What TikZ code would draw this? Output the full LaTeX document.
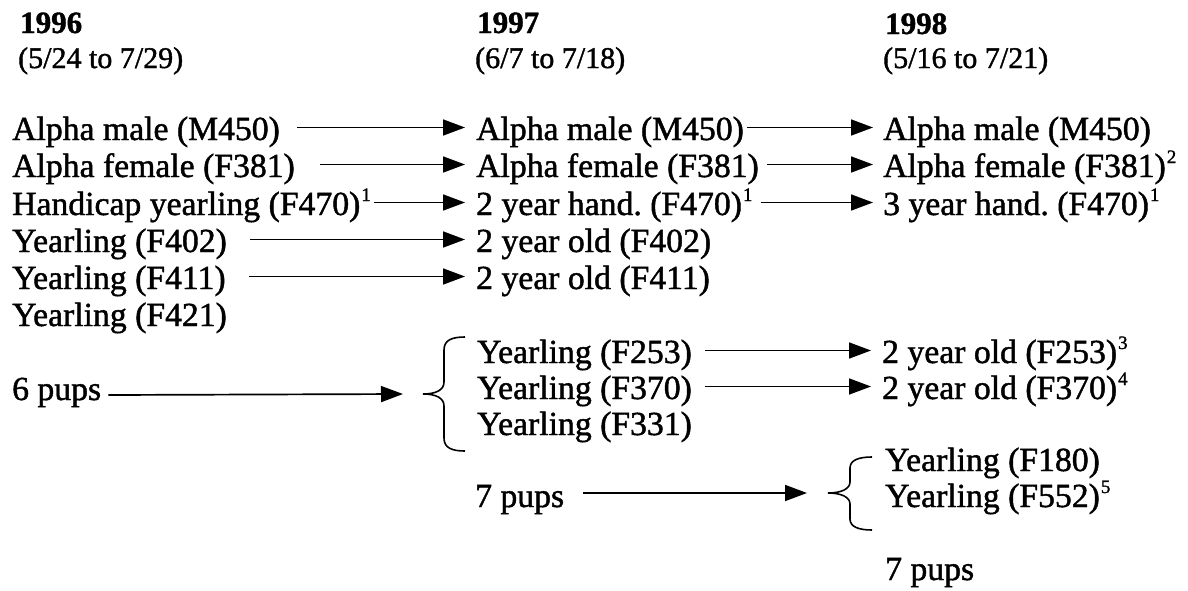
\documentclass[tikz,border=0pt]{standalone}
\usepackage{fontspec}
\setmainfont{Liberation Serif}[FakeBold=1.3]
\usetikzlibrary{arrows.meta,calc}
\newcommand\mainsz{\fontsize{33.7}{36}\selectfont}
\newcommand\supn[1]{\kern1pt\raisebox{14pt}{\fontsize{19}{19}\selectfont #1}}
\begin{document}
\begin{tikzpicture}[x=1pt,y=-1pt,
  lbl/.style={anchor=base west,inner sep=0pt,font=\mainsz,text height=25pt,text depth=0pt},
  yr/.style={anchor=base west,inner sep=0pt,font=\fontsize{31}{31}\selectfont\bfseries},
  dt/.style={anchor=base west,inner sep=0pt,font=\fontsize{30}{30}\selectfont},
  arr/.style={line width=1.7pt,-{Triangle[length=22pt,width=16pt]}},
  brc/.style={line width=1.6pt}]
\useasboundingbox (0,0) rectangle (1188,590);
% headers
\node[yr] (h1) at (20,33) {1996};
\node[dt] (d1) at (18,68) {(5/24 to 7/29)};
\node[yr] (h2) at (477,33) {1997};
\node[dt] (d2) at (475,68) {(6/7 to 7/18)};
\node[yr] (h3) at (885,34) {1998};
\node[dt] (d3) at (883,68) {(5/16 to 7/21)};
% column 1996
\node[lbl] (a1) at (12,140) {Alpha male (M450)};
\node[lbl] (a2) at (12,177) {Alpha female (F381)};
\node[lbl] (a3) at (12,215) {Handicap yearling (F470)\supn{1}};
\node[lbl] (a4) at (12,252) {Yearling (F402)};
\node[lbl] (a5) at (12,289) {Yearling (F411)};
\node[lbl] (a6) at (12,326) {Yearling (F421)};
\node[lbl] (a8) at (12,400) {6 pups};
% column 1997
\node[lbl] (b1) at (476,140) {Alpha male (M450)};
\node[lbl] (b2) at (476,177) {Alpha female (F381)};
\node[lbl] (b3) at (476,215) {2 year hand.\ (F470)\supn{1}};
\node[lbl] (b4) at (476,252) {2 year old (F402)};
\node[lbl] (b5) at (476,289) {2 year old (F411)};
\node[lbl] (b7) at (477,363) {Yearling (F253)};
\node[lbl] (b8) at (477,399) {Yearling (F370)};
\node[lbl] (b9) at (477,435) {Yearling (F331)};
\node[lbl] (b11) at (475,507) {7 pups};
% column 1998
\node[lbl] (c1) at (883,140) {Alpha male (M450)};
\node[lbl] (c2) at (883,177) {Alpha female (F381)\supn{2}};
\node[lbl] (c3) at (883,215) {3 year hand.\ (F470)\supn{1}};
\node[lbl] (c7) at (882,363) {2 year old (F253)\supn{3}};
\node[lbl] (c8) at (882,399) {2 year old (F370)\supn{4}};
\node[lbl] (c10) at (885,471) {Yearling (F180)};
\node[lbl] (c11) at (885,507) {Yearling (F552)\supn{5}};
\node[lbl] (c13) at (885,580) {7 pups};
% braces
\coordinate (t1) at (423,394);
\coordinate (t2) at (828,493);
\draw[brc] (465,337) .. controls (452,337) and (444,340) .. (444,350) -- (444,382)
  .. controls (444,390) and (436,394) .. (t1)
  .. controls (436,394) and (444,398) .. (444,406) -- (444,438)
  .. controls (444,448) and (452,451) .. (465,451);
\draw[brc] (872,457) .. controls (859,457) and (850,460) .. (850,468) -- (850,482)
  .. controls (850,489) and (841,493) .. (t2)
  .. controls (841,493) and (850,497) .. (850,504) -- (850,519)
  .. controls (850,527) and (859,530) .. (872,530);
% arrows 1996 -> 1997
\draw[arr] ([xshift=17pt]a1.east) -- ([xshift=-11pt]b1.west);
\draw[arr] ([xshift=25pt]a2.east) -- ([xshift=-11pt]b2.west);
\draw[arr] ([xshift=3pt]a3.east) -- ([xshift=-11pt]b3.west);
\draw[arr] ([xshift=23pt]a4.east) -- ([xshift=-11pt]b4.west);
\draw[arr] ([xshift=23pt]a5.east) -- ([xshift=-11pt]b5.west);
\draw[arr] ($(a8.base east)+(7,-5)$) -- ($(t1)+(-20,0)$);
% arrows 1997 -> 1998
\draw[arr] ([xshift=3pt]b1.east) -- ([xshift=-10pt]c1.west);
\draw[arr] ([xshift=8pt]b2.east) -- ([xshift=-10pt]c2.west);
\draw[arr] ([xshift=8pt]b3.east) -- ([xshift=-10pt]c3.west);
\draw[arr] ([xshift=13pt]b7.east) -- ([xshift=-11pt]c7.west);
\draw[arr] ([xshift=13pt]b8.east) -- ([xshift=-11pt]c8.west);
\draw[arr] ($(b11.base east)+(19,-14)$) -- ($(t2)+(-21,0)$);
\end{tikzpicture}
\end{document}
